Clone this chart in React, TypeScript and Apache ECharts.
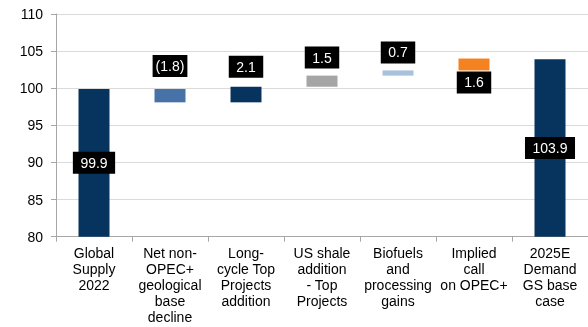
import React, { useEffect, useRef } from "react";
import * as echarts from "echarts";

// Oil supply bridge, mb/d
const categories = [
  "Global\nSupply\n2022",
  "Net non-\nOPEC+\ngeological\nbase\ndecline",
  "Long-\ncycle Top\nProjects\naddition",
  "US shale\naddition\n- Top\nProjects",
  "Biofuels\nand\nprocessing\ngains",
  "Implied\ncall\non OPEC+",
  "2025E\nDemand\nGS base\ncase",
];
const supply2022 = 99.9;
const changes = [-1.8, 2.1, 1.5, 0.7, 1.6];
const demand2025 = 103.9;
const yTicks = { min: 80, max: 110, step: 5 };

const colors = ["#06345f", "#4672a8", "#06345f", "#a5a5a5", "#a8c1dd", "#f58221", "#06345f"];
const labelGap = [0, 12, 9, 7, 7, 1, 0];

const FONT = "Arial, 'Liberation Sans', sans-serif";

function fmt(v: number) {
  return v < 0 ? `(${Math.abs(v).toFixed(1)})` : v.toFixed(1);
}

export default function App() {
  const ref = useRef<HTMLDivElement>(null);

  useEffect(() => {
    if (!ref.current) return;
    const chart = echarts.init(ref.current, undefined, { renderer: "svg" });

    // invisible offset + visible segment for each step of the bridge
    const base: number[] = [0];
    const seg: number[] = [supply2022];
    const labels: string[] = [fmt(supply2022)];
    let level = supply2022;
    changes.forEach((c) => {
      const next = level + c;
      base.push(Math.min(level, next));
      seg.push(Math.abs(c));
      labels.push(fmt(c));
      level = next;
    });
    base.push(0);
    seg.push(demand2025);
    labels.push(fmt(demand2025));

    const segData = seg.map((v, i) => {
      const isTotal = i === 0 || i === seg.length - 1;
      const isCall = i === seg.length - 2;
      return {
        value: v,
        itemStyle: { color: colors[i] },
        label: {
          show: true,
          formatter: labels[i],
          position: isTotal ? "inside" : isCall ? "bottom" : "top",
          distance: labelGap[i],
          padding: labels[i].startsWith("(") ? [4, 3] : [4, 7.5],
        },
      };
    });

    chart.setOption({
      animation: false,
      grid: { left: 56, top: 14, width: 538, height: 222.7 },
      xAxis: {
        type: "category",
        data: categories,
        axisLine: { lineStyle: { color: "#a6a6a6" } },
        axisTick: { show: true, length: 5, lineStyle: { color: "#a6a6a6" } },
        axisLabel: {
          interval: 0,
          fontFamily: FONT,
          fontSize: 14,
          lineHeight: 16,
          color: "#000",
          margin: 8,
        },
      },
      yAxis: {
        type: "value",
        min: yTicks.min,
        max: yTicks.max,
        interval: yTicks.step,
        axisLine: { show: true, lineStyle: { color: "#a6a6a6" } },
        axisTick: { show: true, length: 5, lineStyle: { color: "#a6a6a6" } },
        splitLine: { lineStyle: { color: "#dadada" } },
        axisLabel: { fontFamily: FONT, fontSize: 14, color: "#000", margin: 13 },
      },
      series: [
        {
          type: "bar",
          stack: "bridge",
          data: base,
          barWidth: 31,
          itemStyle: { color: "transparent" },
          silent: true,
        },
        {
          type: "bar",
          stack: "bridge",
          data: segData,
          barWidth: 31,
          label: {
            show: true,
            backgroundColor: "#000",
            borderRadius: 0,
            color: "#fff",
            fontFamily: FONT,
            fontSize: 14,
            lineHeight: 14,
          },
        },
      ],
    });

    return () => chart.dispose();
  }, []);

  return (
    <div
      ref={ref}
      style={{ position: "fixed", left: 0, top: 0, width: 588, height: 327 }}
    />
  );
}
